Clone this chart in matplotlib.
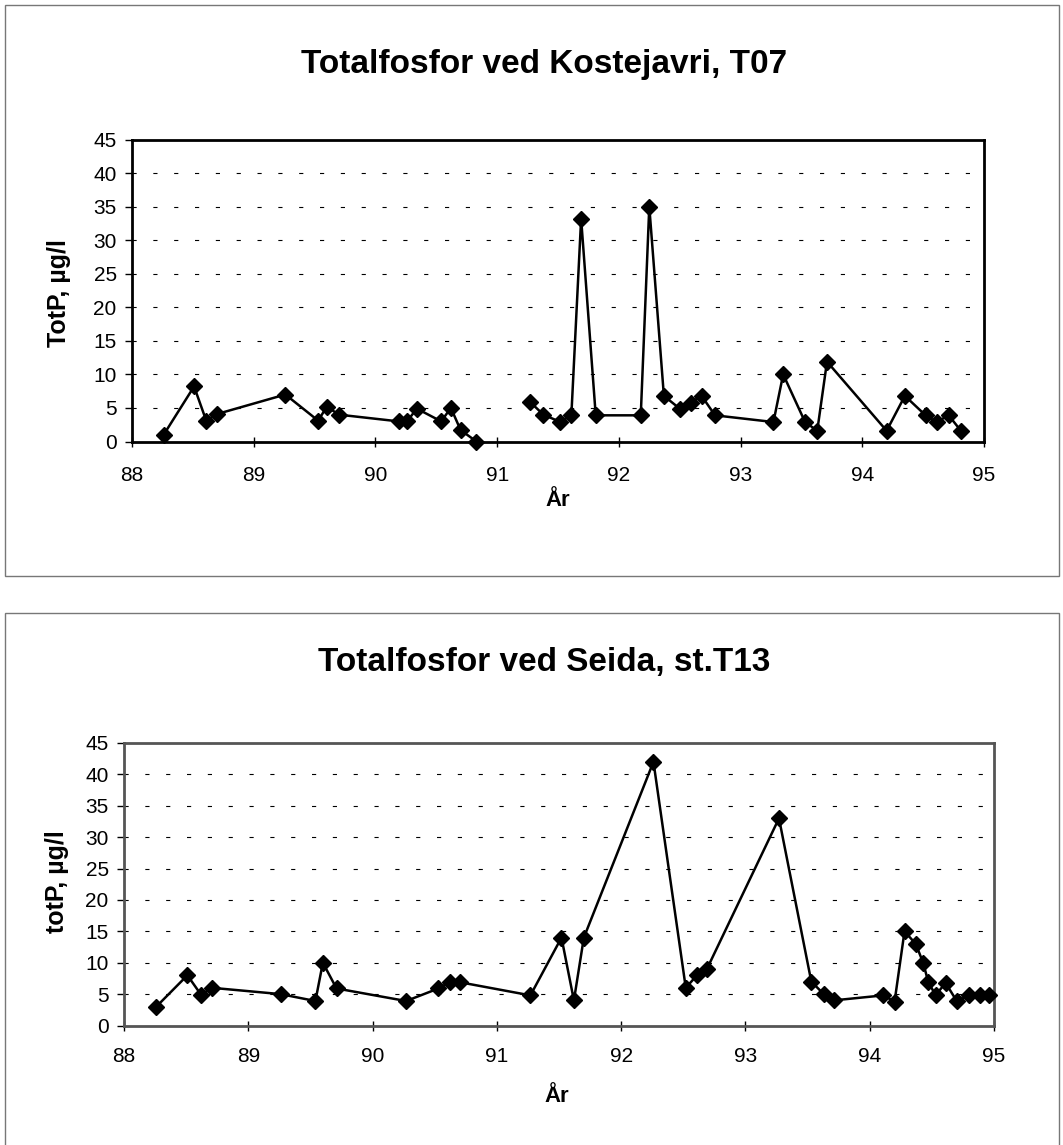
import matplotlib
matplotlib.use("Agg")
import matplotlib.pyplot as plt
from matplotlib.patches import Rectangle

plt.rcParams['font.family'] = ['Liberation Sans', 'DejaVu Sans']
plt.rcParams['lines.scale_dashes'] = False

# ---- data ----
kost_title = "Totalfosfor ved Kostejavri, T07"
kost_ylabel = "TotP, µg/l"
# two sampling periods (line is broken between them)
kost_x1 = [88.26, 88.51, 88.61, 88.70, 89.26, 89.53, 89.60, 89.70, 90.19, 90.26,
           90.34, 90.54, 90.62, 90.70, 90.83]
kost_y1 = [1.0, 8.2, 3.1, 4.1, 7.0, 3.1, 5.2, 4.0, 3.0, 3.0,
           4.9, 3.0, 5.0, 1.7, 0.0]
kost_x2 = [91.27, 91.38, 91.52, 91.61, 91.69, 91.81, 92.18, 92.25, 92.37, 92.50,
           92.59, 92.68, 92.79, 93.27, 93.35, 93.53, 93.63, 93.71, 94.20, 94.35,
           94.52, 94.61, 94.71, 94.81]
kost_y2 = [5.9, 4.0, 2.9, 4.0, 33.2, 3.9, 3.9, 35.0, 6.8, 4.9,
           5.8, 6.8, 3.9, 2.9, 10.0, 2.9, 1.6, 11.9, 1.6, 6.8,
           3.9, 2.9, 3.9, 1.6]

seida_title = "Totalfosfor ved Seida, st.T13"
seida_ylabel = "totP, µg/l"
seida_x = [88.26, 88.51, 88.62, 88.71, 89.26, 89.54, 89.60, 89.71, 90.27, 90.53,
           90.62, 90.70, 91.27, 91.52, 91.62, 91.70, 92.26, 92.52, 92.61, 92.69,
           93.27, 93.53, 93.63, 93.71, 94.11, 94.20, 94.28, 94.37, 94.43, 94.47,
           94.53, 94.61, 94.70, 94.80, 94.89, 94.96]
seida_y = [3.0, 8.0, 4.9, 6.0, 5.0, 3.9, 10.0, 5.9, 3.9, 5.9,
           6.9, 6.9, 4.8, 14.0, 4.0, 14.0, 42.0, 6.0, 8.0, 9.0,
           33.0, 7.0, 5.0, 4.0, 4.8, 3.8, 15.0, 13.0, 10.0, 7.0,
           4.8, 6.8, 3.9, 4.8, 4.8, 4.8]

x_ticks = [88, 89, 90, 91, 92, 93, 94, 95]
y_ticks = [0, 5, 10, 15, 20, 25, 30, 35, 40, 45]
xlabel = "År"

W, H = 1063, 1145
fig = plt.figure(figsize=(W / 100, H / 100), dpi=100)
fig.patch.set_facecolor('white')


def fx(px):
    return px / W


def fy(py):
    return 1 - py / H


# panel frames
for (x0, y0, x1, y1) in [(5, 5, 1059, 576), (5, 613, 1059, 1160)]:
    fig.patches.append(Rectangle((fx(x0), fy(y1)), fx(x1) - fx(x0), fy(y0) - fy(y1),
                                 transform=fig.transFigure, fill=False,
                                 edgecolor='#777777', linewidth=1.0, zorder=0))


def make_axes(box, spine_color, xpad):
    l, t, r, b = box
    ax = fig.add_axes([fx(l), fy(b), fx(r) - fx(l), fy(t) - fy(b)])
    ax.set_xlim(88, 95)
    ax.set_ylim(0, 45)
    ax.set_xticks(x_ticks)
    ax.set_yticks(y_ticks)
    ax.set_xticklabels([str(v) for v in x_ticks])
    ax.set_yticklabels([str(v) for v in y_ticks])
    for s in ax.spines.values():
        s.set_linewidth(2.0)
        s.set_color(spine_color)
    ax.tick_params(axis='x', direction='inout', length=7, width=1, labelsize=15,
                   pad=xpad, color='black')
    ax.tick_params(axis='y', direction='out', length=5, width=1, labelsize=15,
                   pad=6, color='black')
    ax.grid(axis='y', color='black', linewidth=0.8, linestyle=(0, (3, 12)))
    ax.set_axisbelow(True)
    return ax


ax1 = make_axes((132, 139.5, 984, 441.5), 'black', 14)
for xs, ys in [(kost_x1, kost_y1), (kost_x2, kost_y2)]:
    ax1.plot(xs, ys, color='black', linewidth=1.8, marker='D', markersize=8,
             markerfacecolor='black', markeredgecolor='black', clip_on=False, zorder=3)

ax2 = make_axes((124, 743, 994, 1025.5), '#555555', 12)
ax2.plot(seida_x, seida_y, color='black', linewidth=1.8, marker='D', markersize=8,
         markerfacecolor='black', markeredgecolor='black', clip_on=False, zorder=3)

# titles and labels
fig.text(fx(544), fy(64), kost_title, ha='center', va='center', fontsize=24, fontweight='bold')
fig.text(fx(544), fy(663), seida_title, ha='center', va='center', fontsize=24, fontweight='bold')
fig.text(fx(59), fy(293), kost_ylabel, ha='center', va='center', rotation=90,
         fontsize=18, fontweight='bold')
fig.text(fx(57), fy(882), seida_ylabel, ha='center', va='center', rotation=90,
         fontsize=18, fontweight='bold')
fig.text(fx(558), fy(501), xlabel, ha='center', va='center', fontsize=16, fontweight='bold')
fig.text(fx(557), fy(1097), xlabel, ha='center', va='center', fontsize=16, fontweight='bold')

fig.savefig("out.png", dpi=100, facecolor='white')
